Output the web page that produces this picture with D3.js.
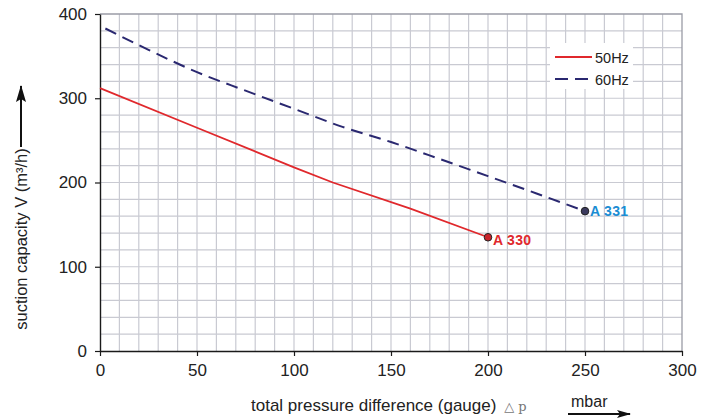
<!DOCTYPE html>
<html>
<head>
<meta charset="utf-8">
<script src="https://cdn.jsdelivr.net/npm/d3@7"></script>
<style>
  body { margin: 0; background: #fff; }
  text { font-family: "Liberation Sans", Arial, sans-serif; }
</style>
</head>
<body>
<div id="wrapper"></div>
<script>
// data
const pressure50 = [0, 50, 100, 120, 160, 200];
const capacity50 = [312, 265, 218, 200, 169, 135];
const pressure60 = [0, 25, 50, 75, 100, 125, 150, 175, 200, 225, 250];
const capacity60 = [386, 357.5, 331, 309, 287.5, 266, 248, 228, 207.5, 187, 166];
const xTicks = [0, 50, 100, 150, 200, 250, 300];
const yTicks = [0, 100, 200, 300, 400];
const seriesNames = ["50Hz", "60Hz"];
const pointLabels = ["A 330", "A 331"];

const dimensions = {
    width: 713,
    height: 419,
    margin: { top: 14, right: 31, bottom: 68, left: 100 }
};
dimensions.boundW = dimensions.width - dimensions.margin.left - dimensions.margin.right;
dimensions.boundH = dimensions.height - dimensions.margin.top - dimensions.margin.bottom;

const svg = d3.select("#wrapper").append("svg")
    .attr("width", dimensions.width)
    .attr("height", dimensions.height);

const bounds = svg.append("g")
    .attr("transform", `translate(${dimensions.margin.left},${dimensions.margin.top})`);

const xScale = d3.scaleLinear().domain([0, 300]).range([0, dimensions.boundW]);
const yScale = d3.scaleLinear().domain([0, 400]).range([dimensions.boundH, 0]);

// grid
const gridColor = "#c9cad2";
bounds.append("g")
    .selectAll("line")
    .data(d3.range(10, 300, 10))
    .join("line")
    .attr("x1", d => xScale(d)).attr("x2", d => xScale(d))
    .attr("y1", 0).attr("y2", dimensions.boundH)
    .attr("stroke", gridColor).attr("stroke-width", 1.2);

bounds.append("g")
    .selectAll("line")
    .data(d3.range(20, 400, 20))
    .join("line")
    .attr("x1", 0).attr("x2", dimensions.boundW)
    .attr("y1", d => yScale(d)).attr("y2", d => yScale(d))
    .attr("stroke", gridColor).attr("stroke-width", 1.2);

// frame top / right
bounds.append("path")
    .attr("d", `M0,${yScale(400)}H${xScale(300)}V${yScale(0)}`)
    .attr("fill", "none")
    .attr("stroke", "#9a9ca6")
    .attr("stroke-width", 1.3);

// axes
const xAxisGenerator = d3.axisBottom(xScale)
    .tickValues(xTicks)
    .tickSize(5)
    .tickPadding(8)
    .tickSizeOuter(0);

const xAxis = bounds.append("g")
    .attr("transform", `translate(0,${dimensions.boundH})`)
    .call(xAxisGenerator);

const yAxisGenerator = d3.axisLeft(yScale)
    .tickValues(yTicks)
    .tickSize(5)
    .tickPadding(8)
    .tickSizeOuter(0);

const yAxis = bounds.append("g").call(yAxisGenerator);

[xAxis, yAxis].forEach(ax => {
    ax.select(".domain").attr("stroke", "#1a1a1a").attr("stroke-width", 1.4);
    ax.selectAll(".tick line").attr("stroke", "#1a1a1a").attr("stroke-width", 1.2);
    ax.selectAll(".tick text")
        .attr("fill", "#222")
        .style("font-size", "17px")
        .style("font-family", "'Liberation Sans', Arial, sans-serif");
});

// lines
const line50 = d3.line()
    .x((d, i) => xScale(pressure50[i]))
    .y(d => yScale(d));

const line60 = d3.line()
    .curve(d3.curveMonotoneX)
    .x((d, i) => xScale(pressure60[i]))
    .y(d => yScale(d));

const red = "#e0282c";
const navy = "#2a2870";

bounds.append("path")
    .attr("d", line50(capacity50))
    .attr("fill", "none")
    .attr("stroke", red)
    .attr("stroke-width", 1.8);

bounds.append("path")
    .attr("d", line60(capacity60))
    .attr("fill", "none")
    .attr("stroke", navy)
    .attr("stroke-width", 2)
    .attr("stroke-dasharray", "12 7")
    .attr("stroke-dashoffset", 13);

// end markers + labels
const ends = [
    { x: pressure50[pressure50.length - 1], y: capacity50[capacity50.length - 1], fill: "#c8232a", text: "#e0282c", label: pointLabels[0], dy: 8 },
    { x: pressure60[pressure60.length - 1], y: capacity60[capacity60.length - 1], fill: "#3b3a5e", text: "#1b8dd3", label: pointLabels[1], dy: 5 }
];

bounds.selectAll(".endpoint")
    .data(ends)
    .join("circle")
    .attr("cx", d => xScale(d.x))
    .attr("cy", d => yScale(d.y))
    .attr("r", 3.8)
    .attr("fill", d => d.fill)
    .attr("stroke", "#222")
    .attr("stroke-width", 1);

bounds.selectAll(".endlabel")
    .data(ends)
    .join("text")
    .attr("x", d => xScale(d.x) + 5)
    .attr("y", d => yScale(d.y) + d.dy)
    .text(d => d.label)
    .attr("fill", d => d.text)
    .style("font-size", "14px")
    .style("font-weight", "bold")
    .style("letter-spacing", "0.3px");

// legend
const legend = svg.append("g").attr("transform", "translate(550,43)");
legend.append("rect")
    .attr("width", 83).attr("height", 46)
    .attr("fill", "#fff");

const legendItems = legend.selectAll(".item")
    .data(seriesNames)
    .join("g")
    .attr("transform", (d, i) => `translate(0,${14 + i * 22})`);

legendItems.append("line")
    .attr("x1", 5).attr("x2", 42)
    .attr("stroke", (d, i) => i === 0 ? red : navy)
    .attr("stroke-width", 2)
    .attr("stroke-dasharray", (d, i) => i === 0 ? null : "13 7");

legendItems.append("text")
    .attr("x", 45)
    .attr("y", 5.5)
    .text(d => d)
    .attr("fill", "#222")
    .style("font-size", "14.5px");

// axis titles
const xTitle = svg.append("text")
    .attr("x", 251)
    .attr("y", 411)
    .attr("fill", "#222")
    .style("font-size", "17px");
xTitle.append("tspan").text("total pressure difference (gauge) ");
xTitle.append("tspan")
    .attr("dx", 3)
    .attr("fill", "#777")
    .style("font-family", "'DejaVu Serif', 'Liberation Serif', serif")
    .style("font-size", "13px")
    .text("△ p");

svg.append("text")
    .attr("x", 571)
    .attr("y", 407)
    .attr("fill", "#222")
    .style("font-size", "16px")
    .text("mbar");

const defs = svg.append("defs");
defs.append("marker")
    .attr("id", "head")
    .attr("viewBox", "0 0 14 8")
    .attr("refX", 13).attr("refY", 4)
    .attr("markerWidth", 14).attr("markerHeight", 8)
    .attr("markerUnits", "userSpaceOnUse")
    .attr("orient", "auto")
    .append("path")
    .attr("d", "M0,0L14,4L0,8L3,4Z")
    .attr("fill", "#111");

defs.append("marker")
    .attr("id", "headBig")
    .attr("viewBox", "0 0 17 10")
    .attr("refX", 16).attr("refY", 5)
    .attr("markerWidth", 17).attr("markerHeight", 10)
    .attr("markerUnits", "userSpaceOnUse")
    .attr("orient", "auto")
    .append("path")
    .attr("d", "M0,0L17,5L0,10L3,5Z")
    .attr("fill", "#111");

svg.append("line")
    .attr("x1", 568).attr("x2", 630)
    .attr("y1", 414).attr("y2", 414)
    .attr("stroke", "#111").attr("stroke-width", 1.8)
    .attr("marker-end", "url(#head)");

svg.append("text")
    .attr("transform", "translate(27,239) rotate(-90)")
    .attr("text-anchor", "middle")
    .attr("fill", "#222")
    .style("font-size", "16.5px")
    .text("suction capacity V (m³/h)");

svg.append("line")
    .attr("x1", 21).attr("x2", 21)
    .attr("y1", 147).attr("y2", 86)
    .attr("stroke", "#111").attr("stroke-width", 2)
    .attr("marker-end", "url(#headBig)");
</script>
</body>
</html>
